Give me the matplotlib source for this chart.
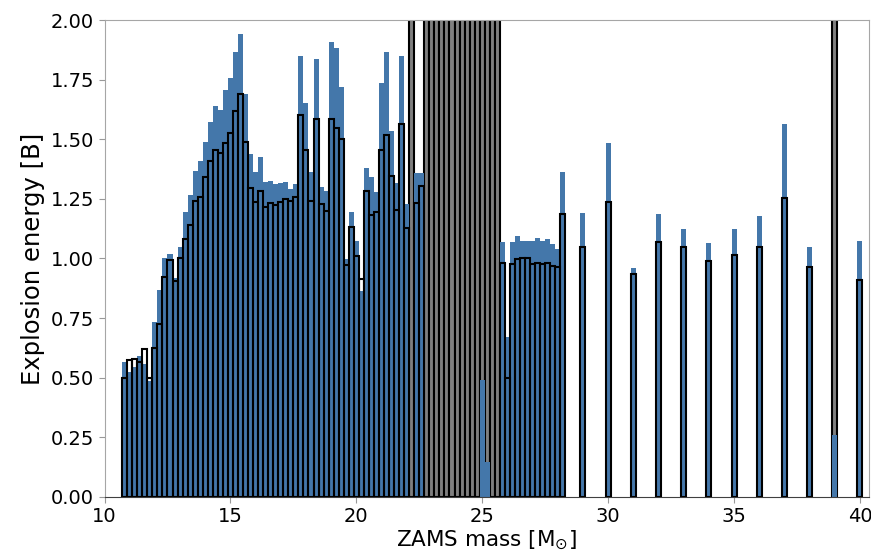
import numpy as np
import matplotlib
matplotlib.use("Agg")
import matplotlib.pyplot as plt

# ZAMS masses of the models
masses = [10.8, 11.0, 11.2, 11.4, 11.6, 11.8, 12.0, 12.2, 12.4, 12.6,
          12.8, 13.0, 13.2, 13.4, 13.6, 13.8, 14.0, 14.2, 14.4, 14.6,
          14.8, 15.0, 15.2, 15.4, 15.6, 15.8, 16.0, 16.2, 16.4, 16.6,
          16.8, 17.0, 17.2, 17.4, 17.6, 17.8, 18.0, 18.2, 18.4, 18.6,
          18.8, 19.0, 19.2, 19.4, 19.6, 19.8, 20.0, 20.2, 20.4, 20.6,
          20.8, 21.0, 21.2, 21.4, 21.6, 21.8, 22.0, 22.2, 22.4, 22.6,
          22.8, 23.0, 23.2, 23.4, 23.6, 23.8, 24.0, 24.2, 24.4, 24.6,
          24.8, 25.0, 25.2, 25.4, 25.6, 25.8, 26.0, 26.2, 26.4, 26.6,
          26.8, 27.0, 27.2, 27.4, 27.6, 27.8, 28.0, 28.2,
          29, 30, 31, 32, 33, 34, 35, 36, 37, 38, 39, 40]

nan = np.nan

# explosion energies [B], filled blue bars (nan = no explosion)
energy_blue = [0.567, 0.525, 0.546, 0.591, 0.556, 0.484, 0.732, 0.868, 1.000, 1.019,
               0.917, 1.050, 1.196, 1.266, 1.367, 1.409, 1.490, 1.571, 1.641, 1.623,
               1.705, 1.755, 1.866, 1.940, 1.688, 1.438, 1.364, 1.424, 1.322, 1.325,
               1.311, 1.315, 1.322, 1.291, 1.311, 1.850, 1.651, 1.361, 1.835, 1.301,
               1.284, 1.906, 1.884, 1.720, 0.997, 1.196, 1.075, 0.865, 1.381, 1.343,
               1.278, 1.735, 1.865, 1.535, 1.315, 1.850, 1.229, nan, 1.357, 1.357,
               nan, nan, nan, nan, nan, nan, nan, nan, nan, nan,
               nan, 0.490, 0.148, nan, nan, 1.068, 0.672, 1.071, 1.096, 1.073,
               1.073, 1.073, 1.085, 1.073, 1.080, 1.059, 1.038, 1.364,
               1.189, 1.483, 0.962, 1.185, 1.122, 1.064, 1.122, 1.178, 1.563, 1.050, 0.260, 1.075]

# explosion energies [B], black outlined bars (nan = failed -> grey bar)
energy_outline = [0.498, 0.574, 0.579, 0.567, 0.620, 0.498, 0.626, 0.725, 0.921, 0.994,
                  0.907, 1.003, 1.080, 1.139, 1.242, 1.258, 1.343, 1.409, 1.455, 1.441,
                  1.484, 1.528, 1.618, 1.688, 1.490, 1.297, 1.238, 1.284, 1.217, 1.231,
                  1.224, 1.236, 1.248, 1.240, 1.257, 1.602, 1.455, 1.242, 1.584, 1.227,
                  1.200, 1.584, 1.547, 1.500, 0.973, 1.131, 1.010, 0.914, 1.282, 1.182,
                  1.194, 1.455, 1.518, 1.347, 1.203, 1.563, 1.127, nan, 1.231, 1.305,
                  nan, nan, nan, nan, nan, nan, nan, nan, nan, nan,
                  nan, nan, nan, nan, nan, 0.980, 0.500, 0.977, 0.998, 1.003,
                  1.003, 0.977, 0.982, 0.977, 0.982, 0.968, 0.966, 1.187,
                  1.047, 1.238, 0.934, 1.068, 1.050, 0.991, 1.013, 1.050, 1.252, 0.966, nan, 0.910]

x_ticks = [10, 15, 20, 25, 30, 35, 40]
y_ticks = [0.00, 0.25, 0.50, 0.75, 1.00, 1.25, 1.50, 1.75, 2.00]

BLUE = "#4477AA"
WIDTH = 0.2
Y_MAX = 2.0


def make_plot():
    m = np.array(masses)
    eb = np.array(energy_blue)
    eo = np.array(energy_outline)
    failed = np.isnan(eo)

    fig = plt.figure(figsize=(8.71, 5.57), dpi=100)
    ax = fig.add_axes([0.12, 0.108, 0.878, 0.856])

    # failed explosions: grey bars reaching past the top
    ax.bar(m[failed], np.full(failed.sum(), Y_MAX * 1.5), width=WIDTH,
           color="grey", edgecolor="black", linewidth=1.5, zorder=1)
    ax.bar(m, np.nan_to_num(eb), width=WIDTH, color=BLUE, linewidth=0, zorder=2)
    ax.bar(m[~failed], eo[~failed], width=WIDTH, fill=False,
           edgecolor="black", linewidth=1.5, zorder=3)

    ax.set_xlim(10, 40.37)
    ax.set_ylim(0, Y_MAX)
    ax.set_xticks(x_ticks)
    ax.set_yticks(y_ticks)
    ax.set_yticklabels([f"{v:.2f}" for v in y_ticks])
    ax.tick_params(axis="both", labelsize=14, length=4, color="0.6", direction="out")

    for side in ["left", "top", "right"]:
        ax.spines[side].set_color("0.65")
    ax.spines["bottom"].set_color("0.25")

    ax.set_xlabel(r"ZAMS mass [M$_{\odot}$]", fontsize=15.5, labelpad=2)
    ax.set_ylabel("Explosion energy [B]", fontsize=17.5)

    fig.savefig("out.png", dpi=100)


if __name__ == "__main__":
    make_plot()
